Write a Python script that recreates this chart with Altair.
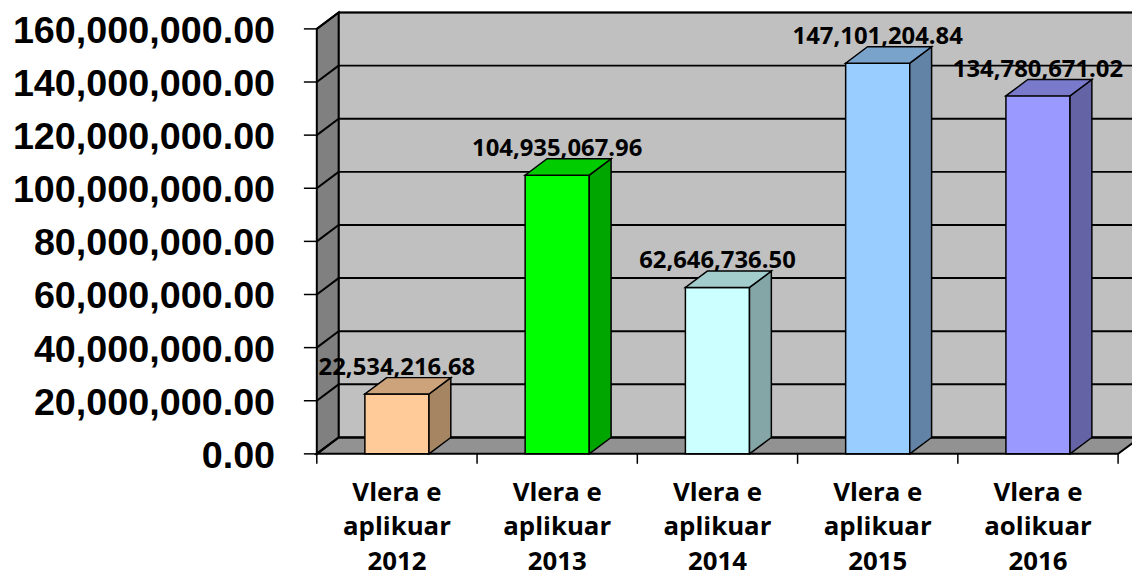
import altair as alt
import pandas as pd

# ---------------- data ----------------
label_lines = [
    ["Vlera e", "aplikuar", "2012"],
    ["Vlera e", "aplikuar", "2013"],
    ["Vlera e", "aplikuar", "2014"],
    ["Vlera e", "aplikuar", "2015"],
    ["Vlera e", "aolikuar", "2016"],
]
values = [22534216.68, 104935067.96, 62646736.50, 147101204.84, 134780671.02]
value_labels = ["22,534,216.68", "104,935,067.96", "62,646,736.50",
                "147,101,204.84", "134,780,671.02"]
front_colors = ["#FFCC99", "#00FF00", "#CCFFFF", "#99CCFF", "#9999FF"]
side_colors = ["#A68563", "#00A600", "#85A6A6", "#6383A6", "#6363A6"]
top_colors = ["#CCA37A", "#00CC00", "#A3CCCC", "#7AA3CC", "#7A7ACC"]
y_ticks = [0, 20e6, 40e6, 60e6, 80e6, 100e6, 120e6, 140e6, 160e6]
y_tick_labels = ["0.00", "20,000,000.00", "40,000,000.00", "60,000,000.00",
                 "80,000,000.00", "100,000,000.00", "120,000,000.00",
                 "140,000,000.00", "160,000,000.00"]

# ---------------- geometry ----------------
W, H = 807, 428
N = len(values)
YMAX = 160e6
DX = 22.0 / (W / N)          # depth offset in x units
DY = 16.5 * YMAX / H         # depth offset in y units
BL, BR = 0.30, 0.70          # bar front face within category

xs = alt.Scale(domain=[0, N], nice=False, zero=False)
ys = alt.Scale(domain=[0, YMAX], nice=False, zero=False)
FONT = "Open Sans"
AXFONT = "Liberation Sans"

# ---------------- tables ----------------
bars = pd.DataFrame({
    "i": list(range(N)),
    "value": values,
    "x0": [i + BL for i in range(N)],
    "x1": [i + BR for i in range(N)],
    "xc": [i + (BL + BR) / 2 for i in range(N)],
    "ylab": [v + DY for v in values],
    "vlabel": value_labels,
    "front": front_colors,
    "cat": ["\n".join(l) for l in label_lines],
    "xcat": [i + 0.5 for i in range(N)],
})

side_rows, top_rows = [], []
for i, v in enumerate(values):
    side_rows.append({"i": i, "x": i + BR, "y": 0, "y2": v, "c": side_colors[i]})
    side_rows.append({"i": i, "x": i + BR + DX, "y": DY, "y2": v + DY, "c": side_colors[i]})
    top_rows.append({"i": i, "y": v, "x": i + BL, "x2": i + BR, "c": top_colors[i]})
    top_rows.append({"i": i, "y": v + DY, "x": i + BL + DX, "x2": i + BR + DX, "c": top_colors[i]})
side_df = pd.DataFrame(side_rows)
top_df = pd.DataFrame(top_rows)

back_df = pd.DataFrame({"x": [DX], "x2": [N + DX], "y": [DY], "y2": [YMAX + DY]})
wall_df = pd.DataFrame({"x": [0, DX], "y": [0, DY], "y2": [YMAX, YMAX + DY]})
floor_df = pd.DataFrame({"y": [0, DY], "x": [0, DX], "x2": [N, N + DX]})

grid_rows = []
for k in y_ticks:
    grid_rows.append({"x": DX, "x2": N + DX, "y": k + DY, "y2": k + DY})
    grid_rows.append({"x": 0, "x2": DX, "y": k, "y2": k + DY})
grid_df = pd.DataFrame(grid_rows)

ytick_df = pd.DataFrame({"y": y_ticks, "label": y_tick_labels})
xtick_df = pd.DataFrame({"x": list(range(N + 1))})

def X(f):
    return alt.X(f, scale=xs, axis=None)

def Y(f):
    return alt.Y(f, scale=ys, axis=None)

back = alt.Chart(back_df).mark_rect(fill="#C0C0C0", stroke="black", strokeWidth=1.5).encode(
    x=X("x:Q"), x2="x2:Q", y=Y("y:Q"), y2="y2:Q")

wall = alt.Chart(wall_df).mark_area(orient="vertical", fill="#808080", stroke="black",
                                    strokeWidth=2).encode(
    x=X("x:Q"), y=Y("y:Q"), y2="y2:Q")

floor = alt.Chart(floor_df).mark_area(orient="horizontal", fill="#929292", stroke="black",
                                      strokeWidth=2).encode(
    y=Y("y:Q"), x=X("x:Q"), x2="x2:Q")

grid = alt.Chart(grid_df).mark_rule(color="black", strokeWidth=2).encode(
    x=X("x:Q"), x2="x2:Q", y=Y("y:Q"), y2="y2:Q")

front = alt.Chart(bars).mark_rect(stroke="black", strokeWidth=1.5).encode(
    x=X("x0:Q"), x2="x1:Q",
    y=Y("value:Q"), y2=alt.datum(0),
    fill=alt.Fill("front:N", scale=None))

side = alt.Chart(side_df).mark_area(orient="vertical", stroke="black", strokeWidth=1.5).encode(
    x=X("x:Q"), y=Y("y:Q"), y2="y2:Q",
    detail="i:N",
    fill=alt.Fill("c:N", scale=None))

top = alt.Chart(top_df).mark_area(orient="horizontal", stroke="black", strokeWidth=1.5).encode(
    y=Y("y:Q"), x=X("x:Q"), x2="x2:Q",
    detail="i:N",
    fill=alt.Fill("c:N", scale=None))

vlabels = alt.Chart(bars).mark_text(font=FONT, fontSize=24, fontWeight="bold", color="black",
                                    baseline="alphabetic", dy=-3).encode(
    x=X("xc:Q"), y=Y("ylab:Q"), text="vlabel:N")

clabels = alt.Chart(bars).mark_text(font=FONT, fontSize=26, fontWeight="bold", color="black",
                                    baseline="top", lineBreak="\n", lineHeight=35).encode(
    x=X("xcat:Q"), y=alt.value(H + 26), text="cat:N")

# y axis: ticks and labels
yticks = alt.Chart(ytick_df).mark_rule(color="black", strokeWidth=1.5).encode(
    x=alt.value(-13), x2=alt.value(0), y=Y("y:Q"))
ylabels = alt.Chart(ytick_df).mark_text(font=AXFONT, fontSize=38, fontWeight="bold",
                                        color="black", align="right", baseline="middle",
                                        dy=3).encode(
    x=alt.value(-42), y=Y("y:Q"), text="label:N")

# x axis: ticks at category boundaries
xticks = alt.Chart(xtick_df).mark_rule(color="black", strokeWidth=1.5).encode(
    x=X("x:Q"), y=alt.value(H), y2=alt.value(H + 10))

chart = alt.layer(back, wall, floor, grid, front, side, top, vlabels, clabels,
                  yticks, ylabels, xticks).properties(
    width=W, height=H,
    padding={"left": 311, "top": 19, "right": 14, "bottom": 125},
    autosize=alt.AutoSizeParams(type="none"),
    background="white",
).configure_view(strokeWidth=0)

chart.save("out.html", embed_options={"renderer": "svg", "actions": False})
